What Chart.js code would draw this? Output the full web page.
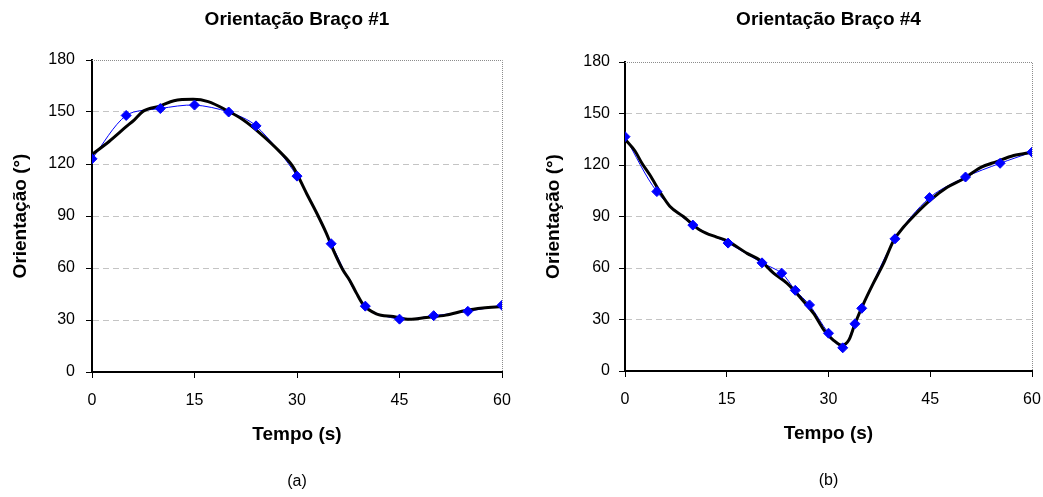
<!DOCTYPE html>
<html>
<head>
<meta charset="utf-8">
<script src="https://cdn.jsdelivr.net/npm/chart.js@4/dist/chart.umd.min.js"></script>
<style>
  html, body { margin: 0; padding: 0; background: #fff; }
  #wrap { position: relative; width: 1043px; height: 497px; }
  canvas { position: absolute; top: 0; }
  #chartA { left: 0; }
  #chartB { left: 521px; }
</style>
</head>
<body>
<div id="wrap">
  <canvas id="chartA" width="521" height="497"></canvas>
  <canvas id="chartB" width="522" height="497"></canvas>
</div>
<script>
// Braço #1 - medições (azul) e curva ajustada (preto)
const bracoUmTempo = [0, 5, 10, 15, 20, 24, 30, 35, 40, 45, 50, 55, 60];
const bracoUmMedido = [123, 148, 152, 154, 150, 142, 113, 74, 38, 30.5, 32.5, 35, 38.5];
const bracoUmCurvaTempo = [0, 2.5, 5, 6.2, 7.5, 10, 12, 14.8, 17, 19.7, 22.1, 24.6, 27.5, 29.4, 31.4, 32.9, 34.3,
  35.3, 36.7, 37.7, 38.7, 39.7, 41.6, 44.1, 46.5, 48.9, 51.8, 54.7, 57.2, 60];
const bracoUmCurva = [125.5, 133, 141.5, 145.5, 150.5, 153.5, 156.5, 157.3, 156, 151, 145.5, 137.7, 127, 118.5, 103, 91.6, 80,
  70.5, 59, 53, 45.5, 38.8, 33.6, 32, 30.4, 31.5, 32.8, 35.5, 36.9, 37.8];

// Braço #4
const bracoQuatroTempo = [0, 4.7, 10, 15.2, 20.2, 23.1, 25.1, 27.2, 30, 32.1, 33.9, 34.9, 39.8, 44.9, 50.2, 55.3, 60];
const bracoQuatroMedido = [136.5, 104.5, 85, 74.5, 63, 57, 47, 38.5, 22, 13.5, 27.5, 36.5, 77, 101, 113, 121, 127.5];
const bracoQuatroCurvaTempo = [0, 1.5, 2.5, 3.7, 5.2, 6.6, 8.6, 11.1, 13.5, 15, 18, 19.9, 21.9, 23.9, 25.8, 27.8,
  29.3, 30.7, 32, 33, 33.9, 35.2, 36.6, 38.1, 39.6, 41.1, 42.5, 45, 47.5, 49.9, 52.4, 54.8, 57.3, 60];
const bracoQuatroCurva = [135, 128, 121, 114, 104, 96, 90, 82, 78, 76, 68.5, 64.5, 57, 51, 43, 33.5,
  24, 18, 15, 18, 27.5, 39.5, 51, 62.5, 76, 84, 90, 99.5, 107, 112, 118.5, 122, 125.5, 127.5];

const yTicks = [0, 30, 60, 90, 120, 150, 180];
const xTicks = [0, 15, 30, 45, 60];

Chart.defaults.font.family = '"Liberation Sans", Arial, sans-serif';
Chart.defaults.color = '#000';

function pares(xs, ys) {
  return xs.map((x, i) => ({ x: x, y: ys[i] }));
}

// borda pontilhada em cima e à direita, como no Excel
const bordaPontilhada = {
  id: 'bordaPontilhada',
  beforeDatasetsDraw(chart) {
    const { ctx, chartArea: a } = chart;
    ctx.save();
    ctx.strokeStyle = '#8c8c8c';
    ctx.lineWidth = 1;
    ctx.setLineDash([1, 1]);
    ctx.beginPath();
    ctx.moveTo(a.left, a.top + 0.5);
    ctx.lineTo(a.right + 0.5, a.top + 0.5);
    ctx.lineTo(a.right + 0.5, a.bottom);
    ctx.stroke();
    ctx.restore();
  }
};

function montar(id, cfg) {
  return new Chart(document.getElementById(id), {
    type: 'line',
    data: {
      datasets: [
        {
          data: pares(cfg.tempo, cfg.medido),
          borderColor: '#0000ff',
          borderWidth: 1,
          tension: 0.3,
          pointRadius: 0,
          order: 3
        },
        {
          data: pares(cfg.curvaTempo, cfg.curva),
          borderColor: '#000',
          borderWidth: 3,
          cubicInterpolationMode: 'monotone',
          pointRadius: 0,
          order: 2
        },
        {
          data: pares(cfg.tempo, cfg.medido),
          showLine: false,
          pointStyle: 'rectRot',
          pointRadius: 5,
          pointBackgroundColor: '#0000ff',
          pointBorderColor: '#0000ff',
          pointBorderWidth: 1,
          order: 1
        }
      ]
    },
    options: {
      responsive: false,
      animation: false,
      layout: { padding: { left: 0, right: cfg.padDir, top: 0, bottom: 0 } },
      plugins: {
        legend: { display: false },
        tooltip: { enabled: false },
        title: {
          display: true,
          text: cfg.titulo,
          fullSize: false,
          font: { size: 19, weight: 'bold' },
          padding: { top: 8.6, bottom: cfg.titPadBaixo }
        },
        subtitle: {
          display: true,
          position: 'bottom',
          text: cfg.rotulo,
          fullSize: false,
          font: { size: 16 },
          padding: { top: 0, bottom: cfg.rotPadBaixo }
        }
      },
      scales: {
        x: {
          type: 'linear',
          min: 0,
          max: 60,
          afterBuildTicks: s => { s.ticks = xTicks.map(v => ({ value: v })); },
          afterFit: s => { s.paddingLeft = 0; s.paddingRight = 0; },
          grid: { drawOnChartArea: false, tickLength: 6, tickColor: '#000' },
          border: { color: '#000', width: 2 },
          ticks: { font: { size: 16 }, padding: 13, maxRotation: 0 },
          title: {
            display: true,
            text: 'Tempo (s)',
            font: { size: 19, weight: 'bold' },
            padding: { top: 0.4, bottom: 25.4 }
          }
        },
        y: {
          min: 0,
          max: 180,
          afterBuildTicks: s => { s.ticks = yTicks.map(v => ({ value: v })); },
          afterFit: s => { s.width = cfg.larguraY; },
          grid: {
            color: c => (c.tick && (c.tick.value === 0 || c.tick.value === 180)) ? 'rgba(0,0,0,0)' : '#c4c4c4',
            tickLength: 6,
            tickColor: '#000'
          },
          border: { color: '#000', width: 2, dash: [6, 4] },
          ticks: { font: { size: 16 }, padding: cfg.padTickY },
          title: {
            display: true,
            text: 'Orientação (°)',
            font: { size: 19, weight: 'bold' },
            padding: { top: cfg.padTituloY, bottom: 0 }
          }
        }
      }
    },
    plugins: [bordaPontilhada]
  });
}

montar('chartA', {
  tempo: bracoUmTempo, medido: bracoUmMedido,
  curvaTempo: bracoUmCurvaTempo, curva: bracoUmCurva,
  titulo: 'Orientação Braço #1', rotulo: '(a)',
  padDir: 19, titPadBaixo: 28.6, rotPadBaixo: 6, larguraY: 92, padTickY: 11, padTituloY: 9.6
});

montar('chartB', {
  tempo: bracoQuatroTempo, medido: bracoQuatroMedido,
  curvaTempo: bracoQuatroCurvaTempo, curva: bracoQuatroCurva,
  titulo: 'Orientação Braço #4', rotulo: '(b)',
  padDir: 11, titPadBaixo: 30.6, rotPadBaixo: 7, larguraY: 104, padTickY: 9, padTituloY: 21.6
});
</script>
</body>
</html>
